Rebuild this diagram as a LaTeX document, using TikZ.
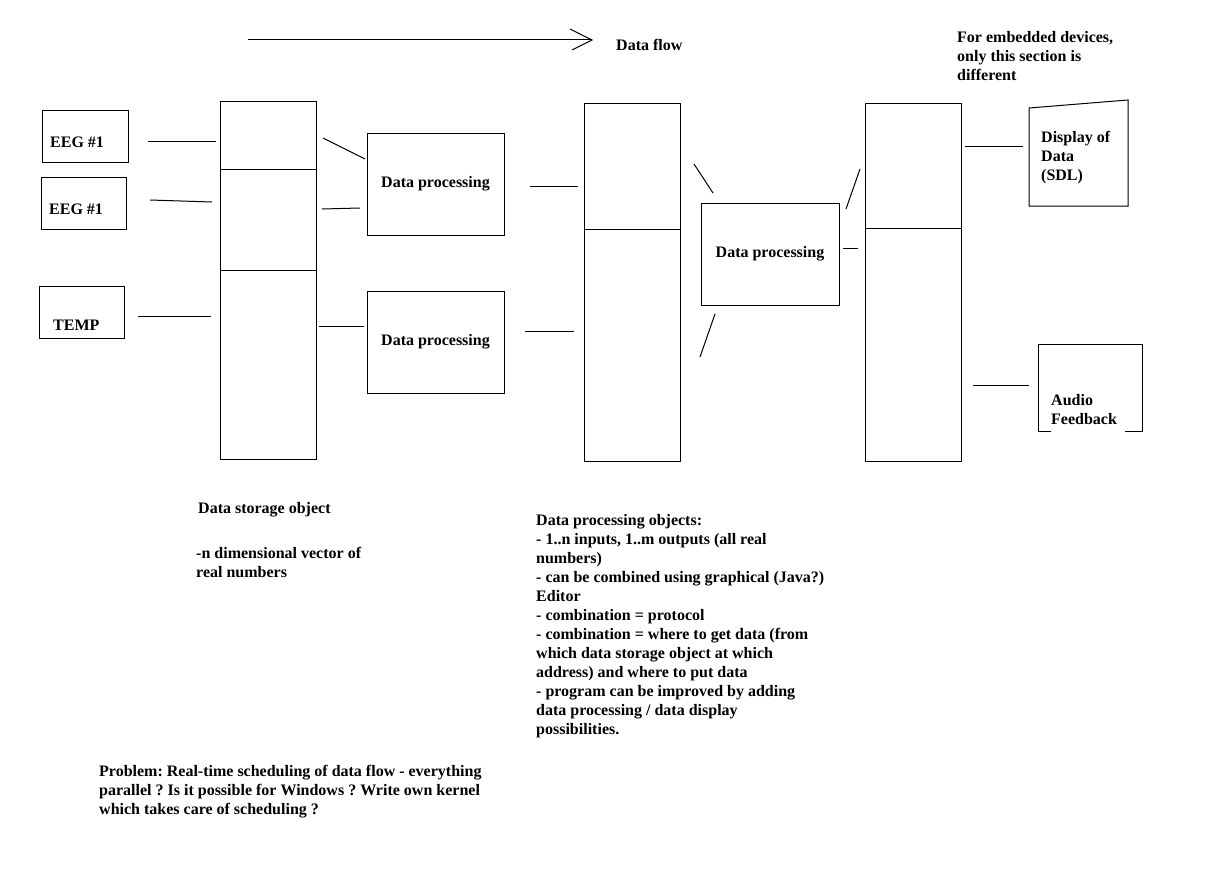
\documentclass[tikz,border=0pt]{standalone}
\usepackage{fontspec}
\setmainfont{Liberation Serif}
\frenchspacing
\begin{document}
\begin{tikzpicture}[x=1pt,y=-1pt,
  every node/.style={font=\fontsize{16}{19}\selectfont\bfseries},
  box/.style={draw,line width=1pt,inner sep=0pt},
  txt/.style={inner sep=0pt,align=left},
  ln/.style={line width=1pt}]
\useasboundingbox (0,0) rectangle (1213,875);
% top arrow
\coordinate (fa) at (248,40);
\coordinate (fb) at (592,40);
\draw[ln] (fa) -- (fb);
\draw[ln] (570,29) -- (fb) -- (572,50);
\node[txt,anchor=base west] (flow) at (616,51) {Data flow};
\node[txt,anchor=base west] (emb) at (957,81) {For embedded devices,\\only this section is\\different};
% sources
\node[box,minimum width=86pt,minimum height=52pt] (eeg1) at (85,136) {};
\node[txt,anchor=base west] (eeg1t) at (50,147) {EEG \#1};
\node[box,minimum width=85pt,minimum height=52pt] (eeg2) at (83.5,203) {};
\node[txt,anchor=base west] (eeg2t) at (49,214) {EEG \#1};
\node[box,minimum width=85pt,minimum height=52pt] (temp) at (81.5,312) {};
\node[txt,anchor=base west] (tempt) at (53,330) {TEMP};
\draw[ln] (148,141) -- (216,141);
\draw[ln] (150,200) -- (212,202);
\draw[ln] (138,316) -- (211,316);
% storage 1
\node[box,minimum width=96pt,minimum height=358pt] (s1) at (268,280) {};
\draw[ln] (220,169) -- (316,169);
\draw[ln] (220,270) -- (316,270);
\draw[ln] (323,138) -- (365,159);
\draw[ln] (322,209) -- (360,208);
\draw[ln] (319,326) -- (364,326);
% data processing 1,2
\node[box,minimum width=137pt,minimum height=102pt] (dp1) at (435.5,184) {Data processing};
\node[box,minimum width=137pt,minimum height=102pt] (dp2) at (435.5,342) {Data processing};
\draw[ln] (530,186) -- (578,186);
\draw[ln] (525,331) -- (574,331);
% storage 2
\node[box,minimum width=96pt,minimum height=358pt] (s2) at (632,282) {};
\draw[ln] (584,229) -- (680,229);
\draw[ln] (694,164) -- (713,193);
\draw[ln] (715,314) -- (700,357);
% data processing 3
\node[box,minimum width=138pt,minimum height=102pt] (dp3) at (770,254) {Data processing};
\draw[ln] (860,169) -- (846,209);
\draw[ln] (843,248) -- (858,248);
% storage 3
\node[box,minimum width=96pt,minimum height=358pt] (s3) at (913,282) {};
\draw[ln] (865,228) -- (961,228);
% display
\draw[ln] (1029,206) -- (1029,108) -- (1128,100) -- (1128,206) -- cycle;
\node[txt,anchor=base west] (disp) at (1041,180) {Display of\\Data\\(SDL)};
\draw[ln] (965,146) -- (1023,146);
% audio
\draw[ln] (1051,431) -- (1038,431) -- (1038,344) -- (1142,344) -- (1142,431) -- (1125,431);
\node[txt,anchor=base west] (audio) at (1051,424) {Audio\\Feedback};
\draw[ln] (973,385) -- (1029,385);
% texts
\node[txt,anchor=base west] (dso) at (198,513) {Data storage object};
\node[txt,anchor=base west] (vec) at (196,577) {-n dimensional vector of\\real numbers};
\node[txt,anchor=base west] (dpo) at (536,734) {Data processing objects:\\
- 1..n inputs, 1..m outputs (all real\\
numbers)\\
- can be combined using graphical (Java?)\\
Editor\\
- combination = protocol\\
- combination = where to get data (from\\
which data storage object at which\\
address) and where to put data\\
- program can be improved by adding\\
data processing / data display\\
possibilities.};
\node[txt,anchor=base west] (prob) at (99,814) {Problem: Real-time scheduling of data flow - everything\\
parallel ? Is it possible for Windows ? Write own kernel\\
which takes care of scheduling ?};
\end{tikzpicture}
\end{document}
